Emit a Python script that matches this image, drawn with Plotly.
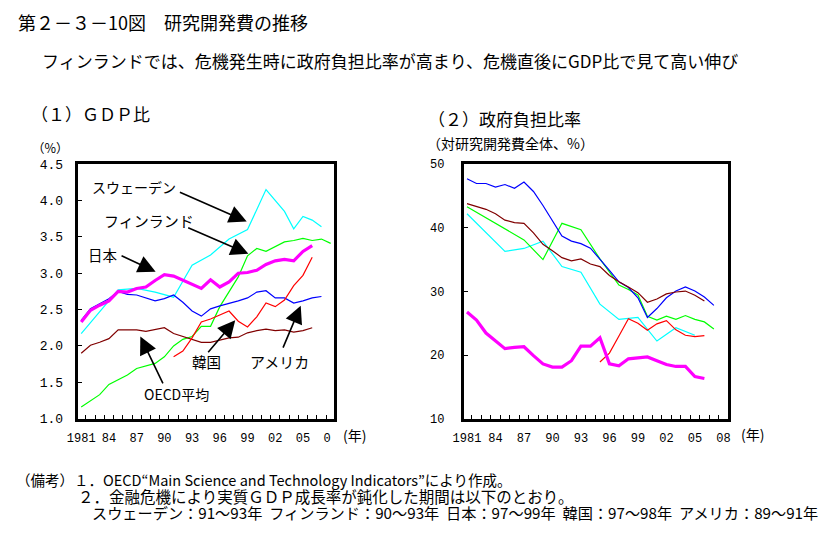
import plotly.graph_objects as go

W, H = 839, 536
JP = "Noto Sans CJK JP"
MONO = "Liberation Mono"

# ---------------- data ----------------
years = list(range(1981, 2009))

# (1) R&D expenditure as % of GDP
sweden_gdp = [2.17, None, 2.47, None, 2.77, None, 2.79, None, 2.74, None, 2.67, None, 3.11, None,
              3.25, None, 3.47, None, 3.60, None, 4.15, None, 3.85, 3.61, 3.78, 3.73, 3.64, None]
finland_gdp = [1.16, 1.24, 1.33, 1.47, 1.53, 1.60, 1.69, 1.73, 1.76, 1.85, 2.00, 2.09, 2.13, 2.27,
               2.27, 2.54, 2.74, 2.95, 3.24, 3.34, 3.30, 3.36, 3.43, 3.45, 3.48, 3.45, 3.47, 3.41]
japan_gdp = [2.33, 2.49, 2.56, 2.62, 2.75, 2.74, 2.79, 2.81, 2.90, 2.98, 2.96, 2.90, 2.85, 2.79,
             2.91, 2.81, 2.88, 3.00, 3.01, 3.04, 3.12, 3.17, 3.19, 3.17, 3.30, 3.38, None, None]
usa_gdp = [2.35, 2.51, 2.58, 2.65, 2.75, 2.71, 2.70, 2.66, 2.62, 2.65, 2.70, 2.60, 2.48, 2.41,
           2.51, 2.55, 2.58, 2.62, 2.66, 2.74, 2.76, 2.66, 2.66, 2.59, 2.62, 2.66, 2.68, None]
oecd_gdp = [1.90, 2.01, 2.05, 2.10, 2.22, 2.22, 2.22, 2.20, 2.22, 2.25, 2.17, 2.13, 2.09, 2.05,
            2.05, 2.08, 2.11, 2.12, 2.18, 2.21, 2.23, 2.21, 2.22, 2.19, 2.21, 2.25, None, None]
korea_gdp = [None] * 10 + [1.85, 1.93, 2.11, 2.33, 2.37, 2.42, 2.48, 2.34, 2.26, 2.40, 2.59, 2.54,
                           2.63, 2.83, 2.97, 3.22, None, None]

# (2) Government-financed share of R&D (%)
sweden_gov = [42.2, None, 39.2, None, 36.3, None, 36.75, None, 37.9, None, 33.9, None, 33.0, None,
              28.0, None, 25.6, None, 25.9, None, 22.2, None, 24.3, None, 23.1, None, None, None]
finland_gov = [43.3, None, 41.6, None, 39.8, None, 38.1, None, 35.0, None, 40.7, None, 39.7, None,
               35.1, None, 31.0, 30.3, 29.45, 26.1, 25.5, 26.1, 25.6, 26.2, 25.6, 25.2, 24.1, None]
japan_gov = [26.75, 25.5, 23.45, 22.2, 21.0, 21.2, 21.3, 19.9, 18.6, 18.1, 18.1, 19.1, 21.4, 21.4,
             22.7, 18.6, 18.3, 19.4, 19.6, 19.7, 19.1, 18.5, 18.2, 18.2, 16.6, 16.3, None, None]
usa_gov = [47.7, 46.96, 46.96, 46.4, 46.8, 46.2, 47.2, 45.7, 43.5, 41.2, 38.7, 37.9, 37.5, 36.8,
           35.1, 33.3, 31.5, 30.6, 29.0, 25.9, 27.3, 29.0, 30.05, 30.7, 30.05, 29.1, 27.8, None]
oecd_gov = [43.8, 43.4, 42.9, 42.2, 41.2, 40.8, 40.7, 39.2, 37.4, 36.4, 35.3, 34.8, 35.1, 34.3,
            33.9, 32.5, 31.5, 30.7, 29.8, 28.3, 28.8, 29.6, 29.9, 30.05, 29.4, 28.5, None, None]
korea_gov = [None] * 14 + [18.9, 20.3, 23.0, 25.7, 25.0, 23.9, 24.9, 25.4, 23.95, 23.1, 22.9,
                           23.05, None, None]

label_years = [1981, 1984, 1987, 1990, 1993, 1996, 1999, 2002, 2005, 2008]
left_ticktext = ["1981", "84", "87", "90", "93", "96", "99", "02", "05", "0\u00a0"]
right_ticktext = ["1981", "84", "87", "90", "93", "96", "99", "02", "05", "08"]

series_styles = [
    ("スウェーデン", "#00FFFF", 1.2),
    ("フィンランド", "#00FF00", 1.2),
    ("アメリカ", "#0000FF", 1.2),
    ("OECD平均", "#800000", 1.2),
    ("韓国", "#FF0000", 1.2),
    ("日本", "#FF00FF", 3.2),
]
left_data = [sweden_gdp, finland_gdp, usa_gdp, oecd_gdp, korea_gdp, japan_gdp]
right_data = [sweden_gov, finland_gov, usa_gov, oecd_gov, korea_gov, japan_gov]

note_lines = [
    ("（備考）１．OECD“Main Science and Technology Indicators”により作成。", 14.5),
    ("　　　　２．金融危機により実質ＧＤＰ成長率が鈍化した期間は以下のとおり。", 15.5),
    ("　　　　　スウェーデン：91～93年  フィンランド：90～93年  日本：97～99年  韓国：97～98年  アメリカ：89～91年", 15.2),
]

# ---------------- figure ----------------
fig = go.Figure()
for (name, color, width), vals in zip(series_styles, left_data):
    fig.add_trace(go.Scatter(x=years, y=vals, mode="lines", name=name, connectgaps=True,
                             line=dict(color=color, width=width), xaxis="x", yaxis="y",
                             hoverinfo="skip", showlegend=False))
for (name, color, width), vals in zip(series_styles, right_data):
    fig.add_trace(go.Scatter(x=years, y=vals, mode="lines", name=name, connectgaps=True,
                             line=dict(color=color, width=width), xaxis="x2", yaxis="y2",
                             hoverinfo="skip", showlegend=False))


def X(p):
    return p / W


def Y(p):
    return 1 - p / H


ydom = [Y(424.5), Y(162.7)]
minor_vals = [y + 0.5 for y in range(1981, 2008)]

common_x = dict(showline=True, linecolor="black", linewidth=3, mirror=True, showgrid=False,
                zeroline=False, tickmode="array", ticks="",
                tickfont=dict(family=MONO, size=12, color="black"), ticklabelstandoff=6,
                minor=dict(ticks="inside", ticklen=4, tickwidth=1, tickcolor="black",
                           tickvals=minor_vals, showgrid=False))
common_y = dict(showline=True, linecolor="black", linewidth=3, mirror=True, showgrid=False,
                zeroline=False, ticks="inside", ticklen=4, tickwidth=1, tickcolor="black")

fig.update_layout(
    width=W, height=H, margin=dict(l=0, r=0, t=0, b=0),
    paper_bgcolor="white", plot_bgcolor="white", showlegend=False,
    xaxis=dict(domain=[X(68), X(328.7)], range=[1980.63, 2008.34], anchor="y",
               tickvals=label_years, ticktext=left_ticktext, **common_x),
    yaxis=dict(domain=ydom, range=[1.0, 4.5], anchor="x", dtick=0.5, tick0=1.0, tickformat=".1f",
               tickfont=dict(family=MONO, size=13, color="black"), ticklabelstandoff=9, **common_y),
    xaxis2=dict(domain=[X(461), X(729.7)], range=[1980.66, 2008.45], anchor="y2",
                tickvals=label_years, ticktext=right_ticktext, **common_x),
    yaxis2=dict(domain=ydom, range=[10, 50], anchor="x2", dtick=10, tick0=10,
                tickfont=dict(family=MONO, size=12, color="black"), ticklabelstandoff=14, **common_y),
)

ann = []


def text(t, x, y, size, xanchor="left"):
    ann.append(dict(text=t, x=X(x), y=Y(y), xref="paper", yref="paper", showarrow=False,
                    xanchor=xanchor, yanchor="middle", borderpad=0,
                    font=dict(family=JP, size=size, color="black")))


def arrow(tip_x, tip_y, tail_x, tail_y):
    ann.append(dict(text="", x=X(tip_x), y=Y(tip_y), xref="paper", yref="paper", showarrow=True,
                    axref="pixel", ayref="pixel", ax=tail_x - tip_x, ay=tail_y - tip_y,
                    arrowhead=2, arrowsize=2.2, arrowwidth=1.6, arrowcolor="black",
                    standoff=0, startstandoff=0))


text("第２－３－10図　研究開発費の推移", 6, 16.5, 18)
text("フィンランドでは、危機発生時に政府負担比率が高まり、危機直後にGDP比で見て高い伸び", 31, 56.5, 17)
text("（１）ＧＤＰ比", 19, 111, 17)
text("（%）", 40, 145.5, 12.5, "center")
text("（２）政府負担比率", 424, 116, 17)
text("（対研究開発費全体、%）", 423, 141, 14)
text("(年)", 350, 441, 14, "center")
text("(年)", 755, 440, 14, "center")

# series labels + arrows (left panel)
text("スウェーデン", 125, 186, 14, "center")
arrow(240, 221.7, 171.7, 191.7)
text("フィンランド", 141, 221, 15, "center")
arrow(241.7, 255, 180, 228.3)
text("日本", 94, 256, 14.5, "center")
arrow(147.3, 273.3, 111.7, 256.7)
text("OECD平均", 169, 399, 14, "center")
arrow(131.7, 340, 155, 388.3)
text("韓国", 199.5, 366, 14.5, "center")
arrow(228.3, 323.3, 200, 356.7)
text("アメリカ", 273, 366, 15, "center")
arrow(295, 308.3, 276.7, 351.7)

# notes: one block, line spacing 16.5px (base size 12.7 * 1.3)
notes_html = "<br>".join(f'<span style="font-size:{s}px">{t}</span>' for t, s in note_lines)
ann.append(dict(text=notes_html, x=X(4), y=Y(504), xref="paper", yref="paper", showarrow=False,
                xanchor="left", yanchor="middle", align="left", borderpad=0,
                font=dict(family=JP, size=12.7, color="black")))

fig.update_layout(annotations=ann)
fig.write_html("out.html")
